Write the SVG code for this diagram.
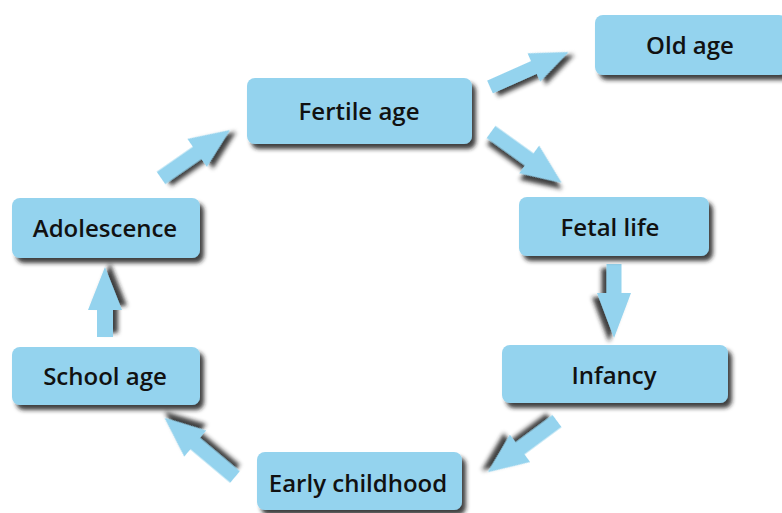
<svg xmlns="http://www.w3.org/2000/svg" width="782" height="513" viewBox="0 0 782 513">
<defs>
<filter id="sh" x="-20%" y="-30%" width="140%" height="170%">
<feDropShadow dx="4" dy="5" stdDeviation="2" flood-color="#1a1a1a" flood-opacity="0.85"/>
</filter>
</defs>
<style>
.box{fill:#94D3EE;filter:url(#sh)}
.lbl{font-family:"Open Sans","DejaVu Sans",sans-serif;font-weight:600;font-size:24px;fill:#111;text-anchor:middle;dominant-baseline:central}
.arrow{fill:#94D3EE;filter:url(#sh)}
</style>
<rect width="782" height="513" fill="#fff"/>
<g id="connectors">
<polygon class="arrow" transform="translate(490,87) rotate(-24)" points="0,-7 48,-7 48,-15.5 86,0 48,15.5 48,7 0,7"/>
<polygon class="arrow" transform="translate(491,132) rotate(35.7)" points="0,-7.5 47,-7.5 47,-17 87,0 47,17 47,7.5 0,7.5"/>
<polygon class="arrow" transform="translate(161,178) rotate(-34.8)" points="0,-7.5 44,-7.5 44,-17 84,0 44,17 44,7.5 0,7.5"/>
<polygon class="arrow" transform="translate(614,264) rotate(90)" points="0,-7.5 29,-7.5 29,-17 74,0 29,17 29,7.5 0,7.5"/>
<polygon class="arrow" transform="translate(557,421) rotate(143.5)" points="0,-7.5 46,-7.5 46,-17 86,0 46,17 46,7.5 0,7.5"/>
<polygon class="arrow" transform="translate(235,477) rotate(220)" points="0,-7.5 52,-7.5 52,-17 92,0 52,17 52,7.5 0,7.5"/>
<polygon class="arrow" transform="translate(105,337) rotate(-90)" points="0,-8 27,-8 27,-17 70,0 27,17 27,8 0,8"/>
</g>
<g id="old-age"><rect class="box" x="595" y="15" width="192" height="60" rx="8"/><text class="lbl" x="690" y="44.5">Old age</text></g>
<g id="fertile-age"><rect class="box" x="247" y="78" width="225" height="66" rx="8"/><text class="lbl" x="359" y="110.5">Fertile age</text></g>
<g id="fetal-life"><rect class="box" x="519" y="197" width="190" height="59" rx="8"/><text class="lbl" x="610" y="226.5">Fetal life</text></g>
<g id="infancy"><rect class="box" x="502" y="345" width="226" height="58" rx="8"/><text class="lbl" x="614" y="374.5">Infancy</text></g>
<g id="early-childhood"><rect class="box" x="257" y="452" width="205" height="58" rx="8"/><text class="lbl" x="358" y="482.5">Early childhood</text></g>
<g id="school-age"><rect class="box" x="12" y="347" width="188" height="58" rx="8"/><text class="lbl" x="105" y="375.5">School age</text></g>
<g id="adolescence"><rect class="box" x="12" y="198" width="188" height="60" rx="8"/><text class="lbl" x="105" y="227.5">Adolescence</text></g>
</svg>
